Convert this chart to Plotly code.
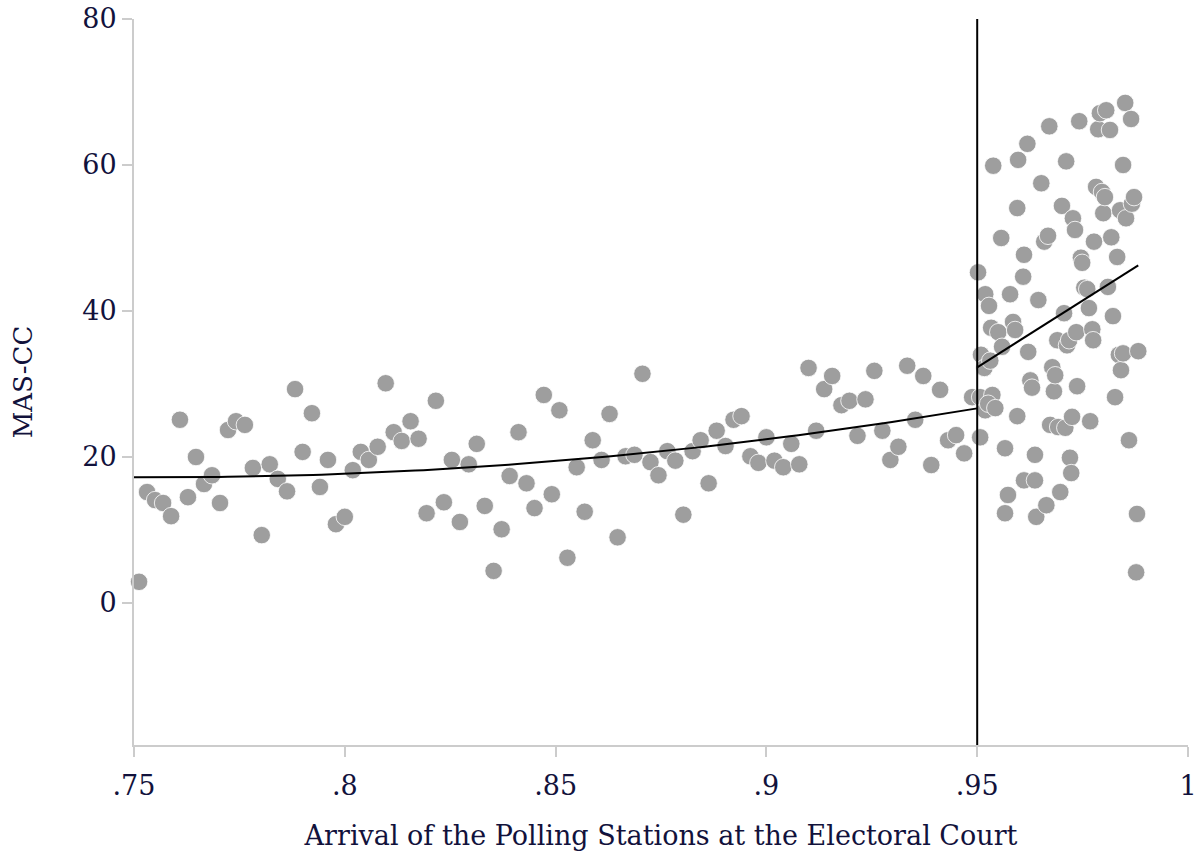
import numpy as np
import plotly.graph_objects as go

# Left of threshold (arrival share < .95)
x_left = [0.7512, 0.7531, 0.7550, 0.7569, 0.7588, 0.7609, 0.7628, 0.7647, 0.7666, 0.7685,
          0.7704, 0.7723, 0.7742, 0.7763, 0.7782, 0.7803, 0.7822, 0.7841, 0.7863, 0.7882,
          0.7900, 0.7922, 0.7941, 0.7960, 0.7979, 0.8000, 0.8019, 0.8038, 0.8057, 0.8078,
          0.8097, 0.8116, 0.8135, 0.8156, 0.8175, 0.8194, 0.8216, 0.8235, 0.8254, 0.8273,
          0.8294, 0.8313, 0.8332, 0.8353, 0.8372, 0.8391, 0.8412, 0.8431, 0.8450, 0.8472,
          0.8491, 0.8509, 0.8528, 0.8550, 0.8569, 0.8588, 0.8609, 0.8628, 0.8647, 0.8666,
          0.8687, 0.8706, 0.8725, 0.8744, 0.8765, 0.8784, 0.8803, 0.8825, 0.8844, 0.8863,
          0.8882, 0.8903, 0.8922, 0.8941, 0.8962, 0.8981, 0.9000, 0.9019, 0.9040, 0.9059,
          0.9078, 0.9100, 0.9118, 0.9137, 0.9156, 0.9178, 0.9197, 0.9216, 0.9235, 0.9256,
          0.9275, 0.9294, 0.9313, 0.9334, 0.9353, 0.9372, 0.9391, 0.9412, 0.9431, 0.9450,
          0.9469, 0.9488]
y_left = [2.9, 15.2, 14.1, 13.7, 11.9, 25.1, 14.5, 20.0, 16.3, 17.5,
          13.7, 23.7, 24.9, 24.4, 18.5, 9.3, 19.0, 17.0, 15.3, 29.3,
          20.7, 26.0, 15.9, 19.6, 10.8, 11.8, 18.2, 20.7, 19.6, 21.4,
          30.1, 23.4, 22.2, 24.9, 22.5, 12.3, 27.7, 13.8, 19.6, 11.1,
          19.0, 21.8, 13.3, 4.4, 10.1, 17.4, 23.4, 16.4, 13.0, 28.5,
          14.9, 26.4, 6.2, 18.6, 12.5, 22.3, 19.6, 25.9, 9.0, 20.1,
          20.3, 31.4, 19.3, 17.5, 20.8, 19.5, 12.1, 20.8, 22.3, 16.4,
          23.6, 21.5, 25.1, 25.6, 20.1, 19.2, 22.7, 19.5, 18.6, 21.8,
          19.0, 32.2, 23.6, 29.3, 31.1, 27.1, 27.7, 22.9, 27.9, 31.8,
          23.6, 19.6, 21.4, 32.5, 25.1, 31.1, 18.9, 29.2, 22.3, 23.0,
          20.5, 28.2]

# Right of threshold (arrival share >= .95)
x_right = [0.9502, 0.9519, 0.9528, 0.9509, 0.9517, 0.9507, 0.9507, 0.9519, 0.9536, 0.9526,
           0.9543, 0.9531, 0.9533, 0.9550, 0.9538, 0.9557, 0.9559, 0.9566, 0.9566, 0.9573,
           0.9578, 0.9585, 0.9590, 0.9595, 0.9595, 0.9597, 0.9611, 0.9609, 0.9611, 0.9619,
           0.9621, 0.9626, 0.9630, 0.9637, 0.9637, 0.9640, 0.9645, 0.9652, 0.9659, 0.9664,
           0.9668, 0.9671, 0.9673, 0.9678, 0.9682, 0.9685, 0.9690, 0.9692, 0.9697, 0.9701,
           0.9706, 0.9709, 0.9711, 0.9713, 0.9718, 0.9720, 0.9723, 0.9725, 0.9727, 0.9732,
           0.9735, 0.9737, 0.9742, 0.9746, 0.9749, 0.9754, 0.9761, 0.9765, 0.9768, 0.9773,
           0.9775, 0.9777, 0.9782, 0.9787, 0.9791, 0.9796, 0.9799, 0.9803, 0.9806, 0.9810,
           0.9815, 0.9818, 0.9822, 0.9827, 0.9832, 0.9836, 0.9839, 0.9841, 0.9846, 0.9846,
           0.9851, 0.9853, 0.9860, 0.9865, 0.9867, 0.9872, 0.9882, 0.9879, 0.9877]
y_right = [45.3, 42.3, 40.7, 34.0, 32.2, 28.2, 22.7, 26.4, 28.5, 27.3,
           26.7, 33.2, 37.7, 37.1, 59.9, 50.0, 35.1, 21.2, 12.3, 14.8,
           42.3, 38.5, 37.4, 25.6, 54.1, 60.7, 47.7, 44.7, 16.8, 62.9,
           34.4, 30.5, 29.5, 16.8, 20.3, 11.8, 41.5, 57.5, 49.5, 13.4,
           50.3, 65.3, 24.4, 32.3, 29.0, 31.2, 36.0, 24.1, 15.2, 54.4,
           39.7, 24.0, 60.5, 35.3, 36.0, 19.9, 17.8, 25.5, 52.7, 51.1,
           37.1, 29.7, 66.0, 47.3, 46.6, 43.2, 43.0, 40.4, 24.9, 37.5,
           36.0, 49.5, 57.0, 64.9, 67.1, 56.3, 53.4, 55.6, 67.5, 43.3,
           64.8, 50.1, 39.3, 28.2, 47.4, 34.0, 53.8, 31.9, 34.2, 60.0,
           68.5, 52.7, 22.3, 66.3, 54.7, 55.6, 34.5, 12.2, 4.2]

x_ticks = [0.75, 0.8, 0.85, 0.9, 0.95, 1.0]
x_tick_labels = [".75", ".8", ".85", ".9", ".95", "1"]
y_ticks = [0, 20, 40, 60, 80]
y_tick_labels = ["0", "20", "40", "60", "80"]
cutoff = 0.95

# Fitted lines: quadratic below cutoff, linear above
cl = np.polyfit(x_left, y_left, 2)
xl_fit = np.linspace(0.75, cutoff, 100)
yl_fit = np.polyval(cl, xl_fit)
cr = np.polyfit(x_right, y_right, 1)
xr_fit = np.linspace(cutoff, max(x_right), 50)
yr_fit = np.polyval(cr, xr_fit)

navy = "#12123c"
font_family = "DejaVu Serif"

fig = go.Figure()
fig.add_trace(go.Scatter(
    x=x_left + x_right, y=y_left + y_right, mode="markers",
    marker=dict(size=17.5, color="#9e9e9e", line=dict(color="white", width=0.8)),
    cliponaxis=False, showlegend=False, hoverinfo="x+y"))
fig.add_trace(go.Scatter(x=xl_fit, y=yl_fit, mode="lines",
                         line=dict(color="black", width=2), showlegend=False))
fig.add_trace(go.Scatter(x=xr_fit, y=yr_fit, mode="lines",
                         line=dict(color="black", width=2), showlegend=False))
fig.add_shape(type="line", x0=cutoff, x1=cutoff, y0=0, y1=1, yref="paper", xref="x",
              line=dict(color="black", width=2))

fig.update_layout(
    width=1200, height=854,
    margin=dict(l=134, r=12, t=19, b=109),
    plot_bgcolor="white", paper_bgcolor="white",
    font=dict(family=font_family, color=navy, size=26),
    xaxis=dict(range=[0.75, 1.0], tickvals=x_ticks, ticktext=x_tick_labels,
               automargin=False,
               showgrid=False, zeroline=False, showline=True, linecolor="#cccccc",
               linewidth=2, ticks="outside", ticklen=10, tickcolor="#cccccc", tickwidth=2,
               ticklabelstandoff=6,
               tickfont=dict(size=27, color=navy, family=font_family),
               title=dict(text="Arrival of the Polling Stations at the Electoral Court",
                          font=dict(size=27, color=navy, family=font_family), standoff=26)),
    yaxis=dict(range=[-19.45, 80], tickvals=y_ticks, ticktext=y_tick_labels,
               automargin=False,
               showgrid=False, zeroline=False, showline=True, linecolor="#cccccc",
               linewidth=2, ticks="outside", ticklen=10, tickcolor="#cccccc", tickwidth=2,
               tickfont=dict(size=27, color=navy, family=font_family),
               title=dict(text="MAS-CC", font=dict(size=26, color=navy, family=font_family),
                          standoff=42)),
)

fig.write_html("out.html")
